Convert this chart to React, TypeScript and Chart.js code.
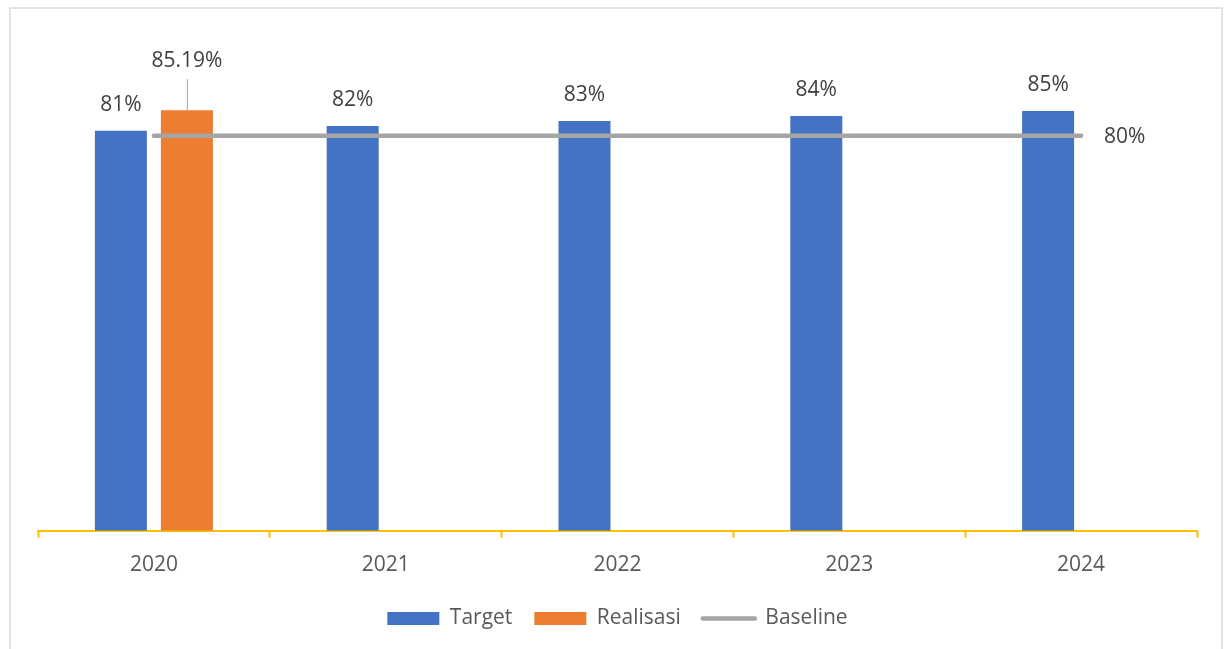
import React, { useEffect, useRef } from "react";
import { Chart, registerables } from "chart.js";

Chart.register(...registerables);

const categories = ["2020", "2021", "2022", "2023", "2024"];
const targetValues = [81, 82, 83, 84, 85];
const realisasiValues: (number | null)[] = [85.19, null, null, null, null];
const baselineValues = [80, 80, 80, 80, 80];
const seriesNames = ["Target", "Realisasi", "Baseline"];

const FONT = "'Open Sans', 'Noto Sans', sans-serif";
const BLUE = "#4472C4";
const ORANGE = "#ED7D31";
const GRAY = "#A5A5A5";
const GOLD = "#FFC000";

const labelPlugin = {
  id: "valueLabels",
  afterDatasetsDraw(chart: any) {
    const ctx = chart.ctx;
    ctx.save();
    ctx.font = `21px ${FONT}`;
    ctx.fillStyle = "#404040";
    ctx.textAlign = "center";
    ctx.textBaseline = "middle";
    // Target labels
    const m0 = chart.getDatasetMeta(0);
    m0.data.forEach((el: any, i: number) => {
      const v = targetValues[i];
      if (v == null) return;
      ctx.fillText(`${v}%`, el.x, el.y - 26);
    });
    // Realisasi labels with leader line
    const m1 = chart.getDatasetMeta(1);
    m1.data.forEach((el: any, i: number) => {
      const v = realisasiValues[i];
      if (v == null) return;
      ctx.fillText(`${v.toFixed(2)}%`, el.x, el.y - 49);
      ctx.beginPath();
      ctx.strokeStyle = "#A6A6A6";
      ctx.lineWidth = 1;
      ctx.moveTo(el.x + 0.5, el.y - 31);
      ctx.lineTo(el.x + 0.5, el.y);
      ctx.stroke();
    });
    // Baseline label at end
    const m2 = chart.getDatasetMeta(2);
    const last = m2.data[m2.data.length - 1];
    if (last) {
      ctx.textAlign = "left";
      ctx.fillText(`${baselineValues[baselineValues.length - 1]}%`, last.x + 23, last.y + 1);
    }
    ctx.restore();
  },
};

export default function App() {
  const ref = useRef<HTMLCanvasElement | null>(null);
  useEffect(() => {
    if (!ref.current) return;
    const chart = new Chart(ref.current, {
      type: "bar",
      data: {
        labels: categories,
        datasets: [
          {
            type: "bar",
            label: seriesNames[0],
            data: targetValues,
            backgroundColor: BLUE,
            categoryPercentage: 0.5695,
            barPercentage: 0.788,
            order: 1,
          },
          {
            type: "bar",
            label: seriesNames[1],
            data: realisasiValues,
            backgroundColor: ORANGE,
            categoryPercentage: 0.5695,
            barPercentage: 0.788,
            order: 1,
          },
          {
            type: "line",
            label: seriesNames[2],
            data: baselineValues,
            borderColor: GRAY,
            backgroundColor: GRAY,
            borderWidth: 4.5,
            borderCapStyle: "round",
            pointRadius: 0,
            pointHoverRadius: 0,
            order: 0,
          } as any,
        ],
      },
      options: {
        animation: false,
        responsive: false,
        maintainAspectRatio: false,
        events: [],
        layout: { padding: { left: 38, right: 30, top: 37, bottom: 10 } },
        scales: {
          x: {
            offset: true,
            afterFit: (scale: any) => {
              scale.height = scale.height - 7;
            },
            grid: {
              offset: true,
              drawOnChartArea: false,
              drawTicks: true,
              tickLength: 7,
              tickColor: GOLD,
              tickWidth: 2,
            },
            border: { display: true, color: GOLD, width: 2 },
            ticks: {
              color: "#595959",
              font: { family: FONT, size: 21 },
              padding: 15,
            },
          },
          y: {
            display: false,
            min: 0,
            max: 100,
          },
        },
        plugins: {
          tooltip: { enabled: false },
          legend: {
            position: "bottom",
            labels: {
              usePointStyle: true,
              pointStyleWidth: 52,
              boxHeight: 13,
              padding: 22,
              color: "#595959",
              font: { family: FONT, size: 21 },
              generateLabels: (c: any) => [
                { text: seriesNames[0], fillStyle: BLUE, strokeStyle: BLUE, lineWidth: 0, pointStyle: "rect", datasetIndex: 0, fontColor: "#595959" },
                { text: seriesNames[1], fillStyle: ORANGE, strokeStyle: ORANGE, lineWidth: 0, pointStyle: "rect", datasetIndex: 1, fontColor: "#595959" },
                { text: seriesNames[2], fillStyle: GRAY, strokeStyle: GRAY, lineWidth: 4.5, lineCap: "round", pointStyle: "line", datasetIndex: 2, fontColor: "#595959" },
              ],
            },
          },
        },
      },
      plugins: [labelPlugin],
    });
    return () => chart.destroy();
  }, []);

  return (
    <div style={{ position: "absolute", left: 0, top: 0, width: 1227, height: 649, overflow: "hidden", background: "#fff" }}>
      <div
        style={{
          position: "absolute",
          left: 9,
          top: 7,
          width: 1214,
          height: 660,
          border: "2px solid #E2E2E2",
          boxSizing: "border-box",
        }}
      />
      <canvas ref={ref} width={1227} height={649} style={{ position: "absolute", left: 0, top: 0, width: 1227, height: 649 }} />
    </div>
  );
}
